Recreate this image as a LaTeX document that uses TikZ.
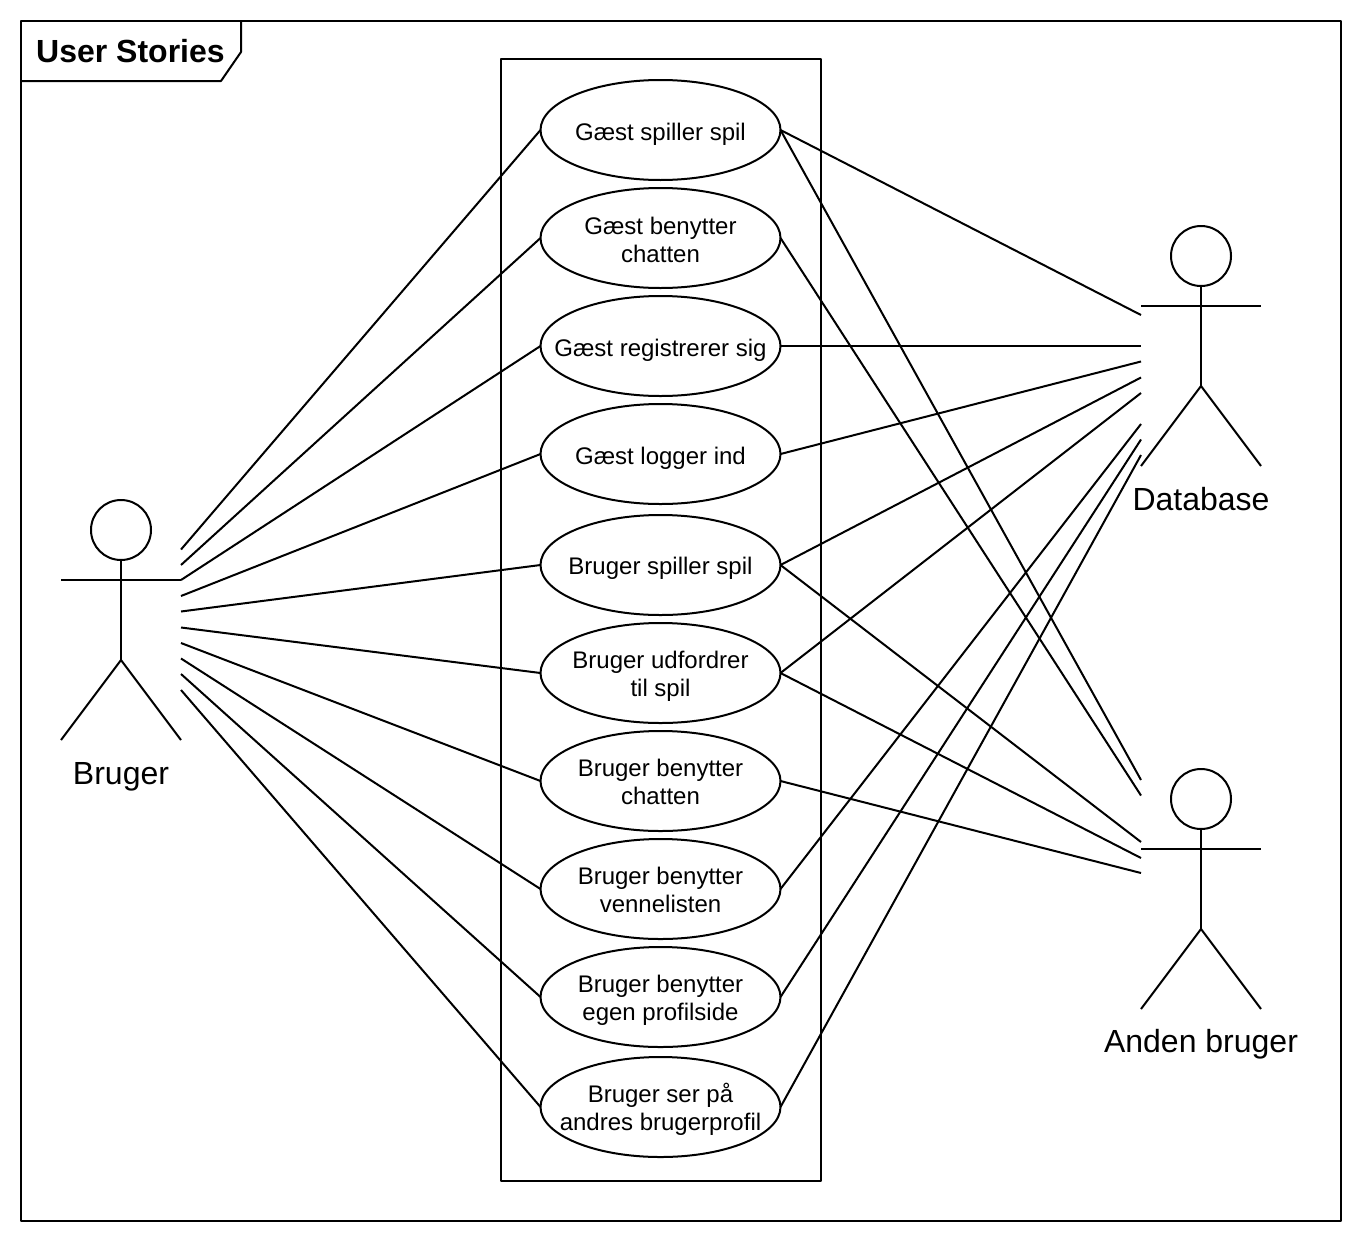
\documentclass[tikz,border=0pt]{standalone}
\usepackage{fontspec}
\setmainfont{Liberation Sans}
\usetikzlibrary{shapes.geometric}
\tikzset{
	usecase/.style={draw,ellipse,inner xsep=-40pt,inner ysep=0pt,outer sep=0pt,minimum width=240,minimum height=100,align=center,text depth=0pt,font=\fontsize{24}{28}\selectfont},
	lowcase/.style={usecase,text height=#1},
	actorname/.style={text depth=0pt,font=\fontsize{32}{36}\selectfont},
	link/.style={line width=2pt}
}
\begin{document}
\begin{tikzpicture}[x=1pt,y=-1pt,line width=2pt,line join=round]
	\useasboundingbox (0,0) rectangle (1362,1242);
	% frame
	\draw (21,21) rectangle (1341,1221);
	\draw (241,21)--(241,52)--(221,81)--(21,81);
	\node[font=\fontsize{32}{36}\selectfont\bfseries] (title) at (130.5,51) {User Stories};
	\draw (501,59) rectangle (821,1181);
	% use cases
	\node[lowcase=20pt] (gspil) at (660.5,130) {Gæst spiller spil};
	\node[lowcase=48pt] (gchat) at (660.5,238) {Gæst benytter\\chatten};
	\node[lowcase=20pt] (greg) at (660.5,346) {Gæst registrerer sig};
	\node[lowcase=20pt] (glog) at (660.5,454) {Gæst logger ind};
	\node[lowcase=18pt] (bspil) at (660.5,565) {Bruger spiller spil};
	\node[lowcase=46pt] (budf) at (660.5,673) {Bruger udfordrer\\til spil};
	\node[lowcase=46pt] (bchat) at (660.5,781) {Bruger benytter\\chatten};
	\node[lowcase=46pt] (bven) at (660.5,889) {Bruger benytter\\vennelisten};
	\node[lowcase=46pt] (bprof) at (660.5,997) {Bruger benytter\\egen profilside};
	\node[usecase] (bandr) at (660.5,1107) {Bruger ser på\\andres brugerprofil};
	% actors
	\foreach \name/\x/\y in {bruger/121/530,data/1201/256,anden/1201/799}{
		\node[draw,circle,inner sep=0pt,outer sep=0pt,minimum size=60] (\name head) at (\x,\y) {};
		\draw (\name head.south)--(\x,\y+130) coordinate (\name hip);
		\draw (\x-60,\y+50)--(\x+60,\y+50);
		\draw (\x-60,\y+210)--(\name hip)--(\x+60,\y+210);
	}
	\node[actorname] (brugername) at (121,773) {Bruger};
	\node[actorname] (dataname) at (1201,499) {Database};
	\node[actorname] (andenname) at (1201,1041) {Anden bruger};
	% connectors to Bruger
	\foreach \uc/\y in {gspil/549.5,gchat/565,greg/580,glog/596,bspil/611.5,budf/627.5,bchat/643,bven/658.5,bprof/674,bandr/690}{
		\coordinate (b\uc) at (181,\y);
		\draw[link] (\uc.west)--(b\uc);
	}
	% connectors to Database
	\foreach \uc/\y in {gspil/315,greg/346,glog/361.5,bspil/377.5,budf/393,bven/424,bprof/439.5,bandr/455}{
		\coordinate (d\uc) at (1141,\y);
		\draw[link] (\uc.east)--(d\uc);
	}
	% connectors to Anden bruger
	\foreach \uc/\y in {gspil/780,gchat/795.5,bspil/842,budf/858,bchat/873}{
		\coordinate (a\uc) at (1141,\y);
		\draw[link] (\uc.east)--(a\uc);
	}
\end{tikzpicture}
\end{document}
